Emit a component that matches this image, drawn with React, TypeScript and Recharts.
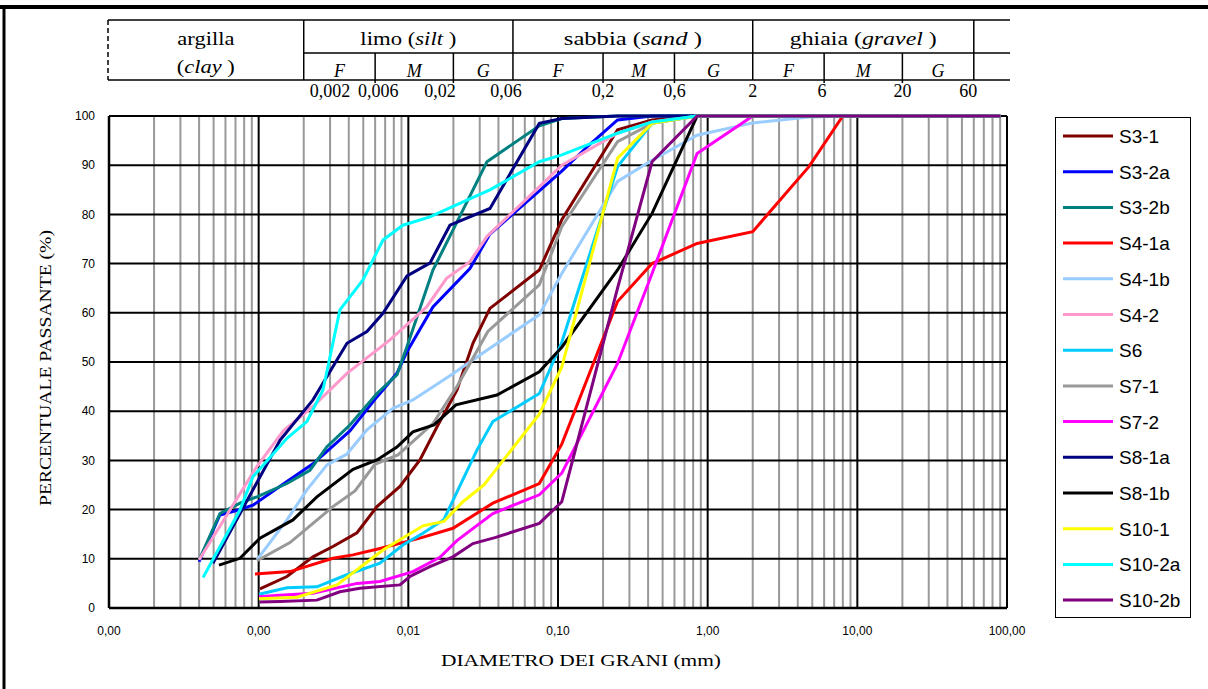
import React from 'react';
import { LineChart, Line, XAxis, YAxis, CartesianGrid, Legend } from 'recharts';

type Pt = [number, number];

// diameter (mm), percent passing
const S3_1: Pt[] = [[0.00102, 3.9], [0.001545, 6.4], [0.002306, 10.4], [0.003135, 12.5], [0.00454, 15.3], [0.00617, 20.6], [0.00879, 24.7], [0.01195, 30.1], [0.01552, 36.8], [0.02112, 44.3], [0.02701, 53.8], [0.0351, 60.9], [0.075, 68.7], [0.106, 78.9], [0.25, 97.2], [0.425, 99.2], [0.85, 100], [2, 100], [90, 100]];
const S3_2A: Pt[] = [[0.0004, 9.4], [0.000551, 18.9], [0.000673, 19.6], [0.000916, 20.9], [0.001545, 25.7], [0.002306, 29.3], [0.00407, 36], [0.00617, 42.9], [0.00839, 47.7], [0.00979, 52.1], [0.0146, 61.2], [0.02579, 69], [0.0351, 76], [0.075, 84.8], [0.106, 88.8], [0.16, 94], [0.25, 99.2], [0.425, 100], [90, 100]];
const S3_2B: Pt[] = [[0.0004, 9.8], [0.000551, 19.2], [0.00075, 21.3], [0.000974, 22.6], [0.001545, 25.3], [0.0022, 28], [0.00286, 32.8], [0.00407, 37.2], [0.00617, 43.6], [0.00839, 47.4], [0.00979, 53.1], [0.0146, 68.7], [0.01986, 76.8], [0.0335, 90.7], [0.075, 98], [0.106, 99.5], [0.25, 100], [90, 100]];
const S4_1A: Pt[] = [[0.000945, 6.9], [0.001619, 7.4], [0.003135, 10.1], [0.00427, 10.8], [0.00646, 12.1], [0.01195, 14.2], [0.01986, 16.2], [0.0367, 21.3], [0.075, 25.3], [0.106, 33.3], [0.25, 62.3], [0.425, 70], [0.85, 74.1], [2, 76.5], [4.75, 89.7], [8, 100], [90, 100]];
const S4_1B: Pt[] = [[0.000974, 9.8], [0.001545, 17.9], [0.0021, 24], [0.00286, 29.1], [0.00389, 31.3], [0.00529, 36.2], [0.00789, 40.6], [0.01073, 42.3], [0.01896, 47.2], [0.0335, 52.4], [0.075, 59.6], [0.106, 68], [0.25, 86.7], [0.425, 91], [0.85, 96.1], [2, 98.6], [4.75, 99.8], [9.5, 100], [90, 100]];
const S4_2: Pt[] = [[0.0004, 9.8], [0.00097, 28.7], [0.00146, 36], [0.00231, 41], [0.00389, 47.7], [0.00754, 54.5], [0.01325, 61.2], [0.018, 67], [0.02579, 70.4], [0.0335, 75.5], [0.075, 85.6], [0.106, 90], [0.25, 96.5], [0.425, 98.8], [0.85, 100], [90, 100]];
const S6: Pt[] = [[0.001005, 2.8], [0.001545, 4.1], [0.00245, 4.3], [0.00377, 6.6], [0.00646, 9.1], [0.0092, 12.8], [0.01252, 15.2], [0.01729, 18], [0.02872, 32.1], [0.0367, 37.9], [0.075, 43.6], [0.106, 54], [0.25, 89.7], [0.425, 98.5], [0.85, 100], [90, 100]];
const S7_1: Pt[] = [[0.000974, 9.6], [0.001619, 13.3], [0.002306, 17.2], [0.003135, 20.6], [0.0044, 23.8], [0.00598, 29.2], [0.00852, 31.1], [0.0146, 37.5], [0.02112, 45], [0.034, 56.2], [0.075, 65.7], [0.106, 77.5], [0.25, 94.8], [0.425, 98.5], [0.85, 100], [90, 100]];
const S7_2: Pt[] = [[0.001005, 2.3], [0.001388, 2.6], [0.002306, 3], [0.00454, 5], [0.00646, 5.4], [0.01073, 7.4], [0.01626, 10.3], [0.02112, 13.7], [0.0367, 19.2], [0.075, 23], [0.106, 27.4], [0.25, 49.7], [0.425, 68], [0.85, 92.4], [2, 100], [90, 100]];
const S8_1A: Pt[] = [[0.000495, 9.1], [0.001388, 34.1], [0.002306, 42.3], [0.00389, 53.8], [0.00529, 56.2], [0.00677, 59.9], [0.0098, 67.5], [0.01394, 70.1], [0.01896, 77.8], [0.0351, 81.2], [0.075, 98.5], [0.106, 99.5], [0.25, 100], [90, 100]];
const S8_1B: Pt[] = [[0.000543, 8.7], [0.00075, 10.1], [0.00102, 14.2], [0.001695, 17.9], [0.00245, 22.6], [0.00427, 28.2], [0.00617, 30.1], [0.00839, 32.7], [0.01073, 35.8], [0.01483, 37.2], [0.0208, 41.3], [0.0391, 43.3], [0.075, 48], [0.106, 53], [0.25, 68.7], [0.425, 80.2], [0.85, 100], [90, 100]];
const S10_1: Pt[] = [[0.001005, 1.9], [0.001803, 2.2], [0.003334, 4.7], [0.00677, 11.8], [0.01252, 16.7], [0.01729, 17.6], [0.02316, 21.6], [0.032, 25], [0.075, 39.4], [0.106, 49], [0.25, 91.4], [0.425, 98.5], [0.85, 100], [90, 100]];
const S10_2A: Pt[] = [[0.000425, 6.2], [0.00075, 19.9], [0.000916, 26.7], [0.001545, 34.5], [0.0021, 37.9], [0.00269, 44.3], [0.00349, 60.6], [0.004975, 66.7], [0.00677, 74.8], [0.0092, 77.8], [0.01394, 79.5], [0.02463, 82.9], [0.0351, 85], [0.075, 90.7], [0.106, 92.1], [0.25, 96.5], [0.425, 98.8], [0.85, 100], [90, 100]];
const S10_2B: Pt[] = [[0.00102, 1.2], [0.001388, 1.3], [0.00245, 1.6], [0.00349, 3.3], [0.00475, 4], [0.00879, 4.7], [0.01025, 6.4], [0.01394, 8.4], [0.01986, 10.4], [0.02701, 13.1], [0.0379, 14.3], [0.075, 17.2], [0.106, 21.6], [0.25, 65], [0.425, 90.7], [0.85, 100], [90, 100]];

const SERIES_NAMES = ['S3-1', 'S3-2a', 'S3-2b', 'S4-1a', 'S4-1b', 'S4-2', 'S6', 'S7-1', 'S7-2', 'S8-1a', 'S8-1b', 'S10-1', 'S10-2a', 'S10-2b'];
const SERIES_COLORS = ['#800000', '#0000FF', '#008080', '#FF0000', '#99CCFF', '#FF99CC', '#00CCFF', '#999999', '#FF00FF', '#000080', '#000000', '#FFFF00', '#00FFFF', '#800080'];
const SERIES_POINTS = [S3_1, S3_2A, S3_2B, S4_1A, S4_1B, S4_2, S6, S7_1, S7_2, S8_1A, S8_1B, S10_1, S10_2A, S10_2B];

const X_TICKS = [0.0001, 0.001, 0.01, 0.1, 1, 10, 100];
const Y_TICKS = [0, 10, 20, 30, 40, 50, 60, 70, 80, 90, 100];
const MINOR_STEPS = [2, 3, 4, 5, 6, 7, 8, 9];
const MINOR_X = X_TICKS.slice(0, -1).flatMap((d) => MINOR_STEPS.map((k) => d * k));

// grain-size class table shown above the chart
const CLASS_EDGES = [0.002, 0.05, 2, 60]; // full-height separators (as drawn)
const SUB_EDGES = [0.006, 0.02, 0.2, 0.6, 6, 20];
const EDGE_LABELS = ['0,002', '0,006', '0,02', '0,06', '0,2', '0,6', '2', '6', '20', '60'];
const EDGE_LABEL_POS = [0.003, 0.0063, 0.0163, 0.045, 0.2, 0.6, 2, 5.8, 20, 55];
const SUB_LABELS = ['F', 'M', 'G'];

const W = 1208;
const H = 689;
const PL = 109;
const PR = 1007;
const PT = 116;
const PB = 608;
const Y_AXIS_W = 60;
const X_AXIS_H = 40;

const xOf = (d: number) =>
  PL + ((Math.log10(d) - Math.log10(X_TICKS[0])) / (Math.log10(X_TICKS[X_TICKS.length - 1]) - Math.log10(X_TICKS[0]))) * (PR - PL);

const serif = '"Liberation Serif", "Times New Roman", serif';
const sans = '"Liberation Sans", Arial, sans-serif';

const fmt = (v: number) => v.toFixed(2).replace('.', ',');

const LegendBox = () => (
  <div style={{ width: 136, height: 501, border: '1.5px solid #000', boxSizing: 'border-box', background: '#fff' }}>
    <svg width={133} height={498} style={{ display: 'block' }}>
      {SERIES_NAMES.map((name, i) => (
        <g key={name}>
          <line x1={7} x2={57} y1={18 + i * 35.7} y2={18 + i * 35.7} stroke={SERIES_COLORS[i]} strokeWidth={3} />
          <text x={63} y={18 + i * 35.7 + 7} fontFamily={sans} fontSize={19} fill="#000">
            {name}
          </text>
        </g>
      ))}
    </svg>
  </div>
);

const Header = () => {
  const top = 20;
  const mid = 53;
  const bot = 80;
  const left = 108;
  const right = 1010;
  const cells: number[] = [left, ...CLASS_EDGES.map(xOf)];
  const subCells = [
    [xOf(0.002), xOf(0.006), xOf(0.02), xOf(0.05)],
    [xOf(0.05), xOf(0.2), xOf(0.6), xOf(2)],
    [xOf(2), xOf(6), xOf(20), xOf(60)],
  ];
  return (
    <svg width={W} height={H} style={{ position: 'absolute', left: 0, top: 0, pointerEvents: 'none' }}>
      {/* outer frame */}
      <line x1={0} x2={W} y1={7} y2={7} stroke="#000" strokeWidth={4} />
      <line x1={4} x2={4} y1={5} y2={H} stroke="#000" strokeWidth={3} />
      <line x1={left} x2={right} y1={top} y2={top} stroke="#000" strokeWidth={1.5} />
      <line x1={xOf(0.002)} x2={right} y1={mid} y2={mid} stroke="#000" strokeWidth={1.5} />
      <line x1={left} x2={right} y1={bot} y2={bot} stroke="#000" strokeWidth={1.5} />
      <line x1={left} x2={left} y1={top} y2={bot} stroke="#000" strokeWidth={1.5} strokeDasharray="5,3" />
      {CLASS_EDGES.map((d) => (
        <line key={d} x1={xOf(d)} x2={xOf(d)} y1={top} y2={bot} stroke="#000" strokeWidth={1.5} />
      ))}
      {SUB_EDGES.map((d) => (
        <line key={d} x1={xOf(d)} x2={xOf(d)} y1={mid} y2={bot + 3} stroke="#000" strokeWidth={1.5} />
      ))}
      <g fontFamily={serif} fontSize={18} fill="#000" textAnchor="middle">
        <text x={(cells[0] + cells[1]) / 2} y={45} textLength={57} lengthAdjust="spacingAndGlyphs">argilla</text>
        <text x={(cells[0] + cells[1]) / 2} y={73} textLength={58} lengthAdjust="spacingAndGlyphs">
          (<tspan fontStyle="italic">clay</tspan> )
        </text>
        <text x={(cells[1] + cells[2]) / 2} y={45} textLength={96} lengthAdjust="spacingAndGlyphs">
          limo (<tspan fontStyle="italic">silt</tspan> )
        </text>
        <text x={(cells[2] + cells[3]) / 2} y={45} textLength={138} lengthAdjust="spacingAndGlyphs">
          sabbia (<tspan fontStyle="italic">sand</tspan> )
        </text>
        <text x={(cells[3] + cells[4]) / 2} y={45} textLength={147} lengthAdjust="spacingAndGlyphs">
          ghiaia (<tspan fontStyle="italic">gravel</tspan> )
        </text>
        {subCells.map((c, gi) =>
          SUB_LABELS.map((s, si) => (
            <text key={`${gi}-${s}`} x={(c[si] + c[si + 1]) / 2} y={77} fontStyle="italic">
              {s}
            </text>
          ))
        )}
        {EDGE_LABELS.map((l, i) => (
          <text key={l} x={xOf(EDGE_LABEL_POS[i])} y={97}>
            {l}
          </text>
        ))}
      </g>
      <text
        x={45}
        y={368}
        transform="rotate(-90 45 368)"
        textAnchor="middle"
        dominantBaseline="central"
        fontFamily={serif}
        fontSize={17}
        textLength={276}
        lengthAdjust="spacingAndGlyphs"
      >
        PERCENTUALE PASSANTE  (%)
      </text>
      <text x={581} y={666} textAnchor="middle" fontFamily={serif} fontSize={17} textLength={280} lengthAdjust="spacingAndGlyphs">
        DIAMETRO DEI GRANI  (mm)
      </text>
    </svg>
  );
};

export default function App() {
  return (
    <div style={{ position: 'absolute', left: 0, top: 0, width: W, height: H, background: '#fff' }}>
      <LineChart
        width={W}
        height={H}
        margin={{ top: PT, right: W - PR, bottom: H - PB - X_AXIS_H, left: PL - Y_AXIS_W }}
      >
        <CartesianGrid horizontal={false} verticalValues={MINOR_X} stroke="#999999" strokeWidth={2} fill="none" />
        <CartesianGrid horizontalValues={Y_TICKS} verticalValues={X_TICKS} stroke="#000" strokeWidth={2} fill="none" />
        <XAxis
          type="number"
          dataKey="d"
          scale="log"
          domain={[X_TICKS[0], X_TICKS[X_TICKS.length - 1]]}
          ticks={X_TICKS}
          allowDataOverflow
          height={X_AXIS_H}
          tickFormatter={fmt}
          tickLine={false}
          tickSize={6}
          tickMargin={12}
          axisLine={{ stroke: '#000', strokeWidth: 2.5 }}
          tick={{ fontFamily: sans, fontSize: 12, fill: '#000' }}
          interval={0}
        />
        <YAxis
          type="number"
          dataKey="p"
          domain={[0, 100]}
          ticks={Y_TICKS}
          width={Y_AXIS_W}
          tickLine={false}
          tickSize={6}
          tickMargin={8}
          axisLine={{ stroke: '#000', strokeWidth: 2.5 }}
          tick={{ fontFamily: sans, fontSize: 12, fill: '#000' }}
          interval={0}
        />
        {SERIES_POINTS.map((pts, i) => (
          <Line
            key={SERIES_NAMES[i]}
            name={SERIES_NAMES[i]}
            data={pts.map(([d, p]) => ({ d, p }))}
            dataKey="p"
            stroke={SERIES_COLORS[i]}
            strokeWidth={3}
            dot={false}
            activeDot={false}
            isAnimationActive={false}
          />
        ))}
        <Legend
          layout="vertical"
          align="center"
          verticalAlign="middle"
          wrapperStyle={{ left: 1055, top: 117, width: 136, height: 501 }}
          content={LegendBox}
        />
      </LineChart>
      <Header />
    </div>
  );
}
